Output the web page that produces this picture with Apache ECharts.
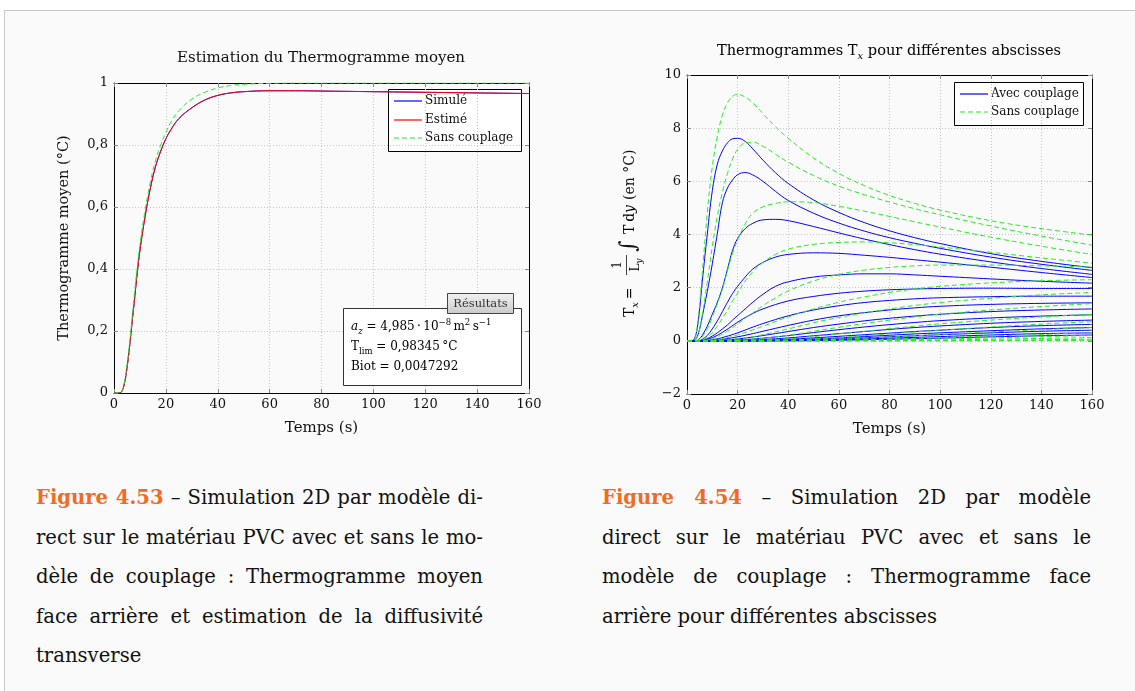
<!DOCTYPE html>
<html><head><meta charset="utf-8">
<script src="https://cdn.jsdelivr.net/npm/echarts@6/dist/echarts.min.js"></script>
<style>
html,body{margin:0;padding:0;background:#fff;width:1135px;height:691px;overflow:hidden;}
#frame{position:absolute;left:4px;top:10px;width:1140px;height:690px;background:#fafafa;border-top:1px solid #c8c8c8;border-left:1px solid #c8c8c8;}
#chart{position:absolute;left:0;top:0;width:1135px;height:470px;}
.cap{position:absolute;font-family:"DejaVu Serif";font-size:19.6px;line-height:39.5px;color:#111;}
.cap div{white-space:nowrap;text-align:justify;text-align-last:justify;}
.cap div.last{text-align-last:left;}
.fig{color:#f26b21;font-weight:bold;}
</style></head>
<body>
<div id="frame"></div>
<div id="chart"></div>
<div class="cap" style="left:36px;top:478px;width:447px">
<div><span class="fig">Figure 4.53</span> – Simulation 2D par modèle di-</div>
<div>rect sur le matériau PVC avec et sans le mo-</div>
<div>dèle de couplage : Thermogramme moyen</div>
<div>face arrière et estimation de la diffusivité</div>
<div class="last">transverse</div>
</div>
<div class="cap" style="left:602px;top:478px;width:489px">
<div><span class="fig">Figure 4.54</span> – Simulation 2D par modèle</div>
<div>direct sur le matériau PVC avec et sans le</div>
<div>modèle de couplage : Thermogramme face</div>
<div class="last">arrière pour différentes abscisses</div>
</div>
<script>
// ---------- Left chart data ----------
const T_LEFT = [0, 2, 3, 4, 5, 6, 7, 8, 9, 10, 12, 14, 16, 18, 20, 22, 25, 30, 35, 40, 45, 50, 60, 70, 80, 100, 120, 140, 160];
const SIMULE = [0, 0, 0.005, 0.03, 0.08, 0.15, 0.23, 0.31, 0.39, 0.46, 0.57, 0.66, 0.73, 0.78, 0.82, 0.85, 0.885, 0.92, 0.945, 0.96, 0.968, 0.972, 0.975, 0.975, 0.974, 0.972, 0.970, 0.968, 0.966];
const ESTIME = [0, 0, 0.005, 0.03, 0.08, 0.15, 0.23, 0.31, 0.39, 0.46, 0.57, 0.66, 0.73, 0.78, 0.82, 0.85, 0.885, 0.92, 0.945, 0.96, 0.968, 0.972, 0.975, 0.975, 0.974, 0.972, 0.970, 0.968, 0.966];
const SANS_MOY = [0, 0, 0.005, 0.035, 0.09, 0.16, 0.245, 0.33, 0.41, 0.48, 0.59, 0.68, 0.75, 0.80, 0.84, 0.875, 0.91, 0.948, 0.97, 0.984, 0.992, 0.996, 0.999, 1.0, 1.0, 1.0, 1.0, 1.0, 1.0];
const X_TICKS = [0, 20, 40, 60, 80, 100, 120, 140, 160];
const LEGEND_LEFT = ['Simulé', 'Estimé', 'Sans couplage'];
const LEGEND_RIGHT = ['Avec couplage', 'Sans couplage'];

// ---------- Right chart data ----------
const T_FAST = [0, 2, 3, 4, 5, 6, 8, 10, 12, 14, 16, 18, 20, 23, 26, 30, 35, 40, 50, 60, 70, 80, 90, 100, 120, 140, 160];
const B1 = [0, 0, 0.1, 0.45, 1.2, 2.2, 4.0, 5.65, 6.65, 7.15, 7.45, 7.6, 7.62, 7.5, 7.22, 6.8, 6.32, 5.92, 5.3, 4.83, 4.45, 4.14, 3.88, 3.66, 3.28, 2.99, 2.75];
const B2 = [0, 0, 0.02, 0.15, 0.45, 0.9, 1.85, 2.9, 4.05, 5.2, 5.75, 6.05, 6.25, 6.33, 6.24, 6.0, 5.62, 5.28, 4.8, 4.43, 4.13, 3.88, 3.67, 3.48, 3.15, 2.88, 2.65];
const B3 = [0, 0, 0, 0.02, 0.08, 0.2, 0.55, 1.0, 1.45, 2.0, 2.7, 3.4, 3.85, 4.22, 4.42, 4.55, 4.57, 4.52, 4.3, 4.06, 3.83, 3.62, 3.43, 3.26, 2.97, 2.72, 2.5];
const B4 = [0, 0, 0, 0, 0.01, 0.05, 0.2, 0.45, 0.75, 1.1, 1.45, 1.78, 2.05, 2.4, 2.7, 2.95, 3.15, 3.25, 3.31, 3.29, 3.22, 3.14, 3.05, 2.96, 2.77, 2.57, 2.38];
const B5 = [0, 0, 0, 0, 0, 0.02, 0.08, 0.18, 0.3, 0.45, 0.6, 0.78, 0.95, 1.2, 1.45, 1.75, 2.05, 2.22, 2.4, 2.48, 2.52, 2.52, 2.48, 2.43, 2.33, 2.24, 2.17];
const G1 = [0, 0, 0.05, 0.5, 1.4, 2.5, 4.8, 6.55, 7.7, 8.5, 8.95, 9.2, 9.27, 9.17, 8.95, 8.55, 8.05, 7.62, 6.88, 6.3, 5.84, 5.47, 5.17, 4.92, 4.52, 4.22, 3.98];
const G2 = [0, 0, 0.02, 0.15, 0.45, 0.95, 2.2, 3.55, 4.7, 5.6, 6.3, 6.85, 7.2, 7.45, 7.47, 7.32, 7.02, 6.72, 6.22, 5.82, 5.5, 5.22, 4.97, 4.74, 4.32, 3.94, 3.6];
const G3 = [0, 0, 0, 0.02, 0.06, 0.15, 0.45, 0.9, 1.4, 1.95, 2.65, 3.3, 3.8, 4.4, 4.8, 5.04, 5.17, 5.23, 5.2, 5.06, 4.88, 4.68, 4.48, 4.28, 3.9, 3.56, 3.25];
const G4 = [0, 0, 0, 0, 0, 0.03, 0.12, 0.3, 0.55, 0.85, 1.15, 1.5, 1.8, 2.25, 2.6, 2.95, 3.25, 3.45, 3.63, 3.7, 3.72, 3.69, 3.62, 3.53, 3.33, 3.12, 2.92];
const G5 = [0, 0, 0, 0, 0, 0, 0.03, 0.08, 0.15, 0.25, 0.37, 0.5, 0.63, 0.85, 1.05, 1.32, 1.62, 1.88, 2.25, 2.5, 2.66, 2.76, 2.82, 2.85, 2.85, 2.82, 2.78];

const T_SLOW = [0, 5, 10, 15, 20, 25, 30, 40, 50, 60, 70, 80, 90, 100, 120, 140, 160];
const B6  = [0, 0.01, 0.12, 0.38, 0.7, 0.98, 1.2, 1.5, 1.67, 1.79, 1.87, 1.92, 1.95, 1.97, 1.98, 1.97, 1.97];
const B7  = [0, 0, 0.04, 0.15, 0.3, 0.48, 0.65, 0.94, 1.16, 1.32, 1.44, 1.52, 1.58, 1.62, 1.66, 1.68, 1.68];
const B8  = [0, 0, 0.02, 0.07, 0.15, 0.25, 0.36, 0.58, 0.78, 0.94, 1.06, 1.16, 1.24, 1.3, 1.37, 1.41, 1.43];
const B9  = [0, 0, 0, 0.03, 0.07, 0.13, 0.2, 0.35, 0.5, 0.63, 0.75, 0.85, 0.93, 1.0, 1.1, 1.16, 1.2];
const B10 = [0, 0, 0, 0, 0.03, 0.06, 0.1, 0.2, 0.31, 0.42, 0.52, 0.61, 0.69, 0.76, 0.86, 0.93, 0.98];
const B11 = [0, 0, 0, 0, 0.01, 0.03, 0.05, 0.11, 0.19, 0.27, 0.35, 0.43, 0.5, 0.56, 0.66, 0.73, 0.78];
const B12 = [0, 0, 0, 0, 0, 0.01, 0.02, 0.06, 0.11, 0.17, 0.23, 0.29, 0.35, 0.4, 0.5, 0.57, 0.62];
const B13 = [0, 0, 0, 0, 0, 0, 0.01, 0.03, 0.07, 0.11, 0.16, 0.21, 0.26, 0.3, 0.38, 0.45, 0.5];
const B14 = [0, 0, 0, 0, 0, 0, 0, 0.02, 0.04, 0.07, 0.11, 0.15, 0.19, 0.23, 0.3, 0.36, 0.4];
const B15 = [0, 0, 0, 0, 0, 0, 0, 0.01, 0.02, 0.04, 0.07, 0.1, 0.13, 0.16, 0.22, 0.27, 0.3];
const B16 = [0, 0, 0, 0, 0, 0, 0, 0, 0.01, 0.02, 0.04, 0.06, 0.08, 0.1, 0.15, 0.19, 0.22];
const G6  = [0, 0, 0.02, 0.1, 0.22, 0.38, 0.55, 0.9, 1.2, 1.45, 1.65, 1.82, 1.95, 2.05, 2.18, 2.26, 2.3];
const G7  = [0, 0, 0, 0.03, 0.07, 0.14, 0.23, 0.45, 0.68, 0.88, 1.05, 1.2, 1.33, 1.44, 1.6, 1.73, 1.82];
const G8  = [0, 0, 0, 0, 0.02, 0.05, 0.09, 0.21, 0.36, 0.51, 0.65, 0.78, 0.9, 1.0, 1.16, 1.29, 1.4];
const G9  = [0, 0, 0, 0, 0, 0.01, 0.03, 0.08, 0.16, 0.26, 0.36, 0.46, 0.55, 0.64, 0.78, 0.9, 1.0];
const G10 = [0, 0, 0, 0, 0, 0, 0.01, 0.03, 0.07, 0.12, 0.19, 0.26, 0.33, 0.4, 0.52, 0.63, 0.72];
const G11 = [0, 0, 0, 0, 0, 0, 0, 0.01, 0.03, 0.06, 0.1, 0.14, 0.19, 0.24, 0.33, 0.42, 0.5];
const G12 = [0, 0, 0, 0, 0, 0, 0, 0, 0.01, 0.02, 0.04, 0.06, 0.09, 0.12, 0.18, 0.24, 0.3];
const G13 = [0, 0, 0, 0, 0, 0, 0, 0, 0, 0.01, 0.02, 0.03, 0.05, 0.07, 0.11, 0.16, 0.2];
const G14 = [0, 0, 0, 0, 0, 0, 0, 0, 0, 0, 0.01, 0.01, 0.02, 0.03, 0.06, 0.09, 0.12];
const G15 = [0, 0, 0, 0, 0, 0, 0, 0, 0, 0, 0, 0, 0.01, 0.01, 0.02, 0.04, 0.06];
const G16 = [0, 0, 0, 0, 0, 0, 0, 0, 0, 0, 0, 0, 0, 0, 0.01, 0.01, 0.02];

const Y_LEFT_TICKS = [0, 0.2, 0.4, 0.6, 0.8, 1];
const Y_RIGHT_TICKS = [-2, 0, 2, 4, 6, 8, 10];

const BLUE_FAST = [B1, B2, B3, B4, B5];
const GREEN_FAST = [G1, G2, G3, G4, G5];
const BLUE_SLOW = [B6, B7, B8, B9, B10, B11, B12, B13, B14, B15, B16];
const GREEN_SLOW = [G6, G7, G8, G9, G10, G11, G12, G13, G14, G15, G16];

// ---------- styles ----------
const FONT = 'DejaVu Serif';
const BLUE = '#0000ff', GREEN = '#22ee22', RED = '#ff0000';
const DASH = [5, 3];

const zip = (ts, vs) => ts.map((t, i) => [t, vs[i]]);

function mainX(gi, min, max, interval) {
  return {
    type: 'value', gridIndex: gi, min, max, interval, position: 'bottom',
    axisLine: {show: true, onZero: false, lineStyle: {color: '#000', width: 1}},
    axisTick: {show: true, inside: true, length: 4, lineStyle: {color: '#888'}},
    axisLabel: {show: true, margin: 5, fontFamily: FONT, fontSize: 13, color: '#111'},
    splitLine: {show: true, lineStyle: {type: [1, 2], color: '#c4c4c4'}},
    name: 'Temps (s)', nameLocation: 'middle', nameGap: 28,
    nameTextStyle: {fontFamily: FONT, fontSize: 15, color: '#111'}
  };
}
function frameX(gi, min, max, interval) {
  return {
    type: 'value', gridIndex: gi, min, max, interval, position: 'top',
    axisLine: {show: true, onZero: false, lineStyle: {color: '#000', width: 1}},
    axisTick: {show: true, inside: true, length: 4, lineStyle: {color: '#888'}},
    axisLabel: {show: false}, splitLine: {show: false}
  };
}
function mainY(gi, min, max, interval, fmt, name, gap) {
  return {
    type: 'value', gridIndex: gi, min, max, interval, position: 'left',
    axisLine: {show: true, onZero: false, lineStyle: {color: '#000', width: 1}},
    axisTick: {show: true, inside: true, length: 4, lineStyle: {color: '#888'}},
    axisLabel: {show: true, margin: 6, fontFamily: FONT, fontSize: 13, color: '#111', formatter: fmt},
    splitLine: {show: true, lineStyle: {type: [1, 2], color: '#c4c4c4'}},
    name: name, nameLocation: 'middle', nameGap: gap,
    nameTextStyle: {fontFamily: FONT, fontSize: 14.5, color: '#111'}
  };
}
function frameY(gi, min, max, interval) {
  return {
    type: 'value', gridIndex: gi, min, max, interval, position: 'right',
    axisLine: {show: true, onZero: false, lineStyle: {color: '#000', width: 1}},
    axisTick: {show: true, inside: true, length: 4, lineStyle: {color: '#888'}},
    axisLabel: {show: false}, splitLine: {show: false}
  };
}

function lineSeries(name, data, xi, yi, color, dashed, z) {
  return {
    type: 'line', name, data, xAxisIndex: xi, yAxisIndex: yi,
    showSymbol: false, symbol: 'none', smooth: 0.4,
    lineStyle: {color, width: 1, type: dashed ? DASH : 'solid'},
    itemStyle: {color}, silent: true, animation: false, z: z || 2
  };
}

const series = [
  lineSeries(LEGEND_LEFT[0], zip(T_LEFT, SIMULE), 0, 0, BLUE, false, 2),
  lineSeries(LEGEND_LEFT[1], zip(T_LEFT, ESTIME), 0, 0, RED, false, 3),
  lineSeries(LEGEND_LEFT[2], zip(T_LEFT, SANS_MOY), 0, 0, GREEN, true, 4)
];
BLUE_FAST.forEach(a => series.push(lineSeries(LEGEND_RIGHT[0], zip(T_FAST, a), 2, 2, BLUE, false, 2)));
BLUE_SLOW.forEach(a => series.push(lineSeries(LEGEND_RIGHT[0], zip(T_SLOW, a), 2, 2, BLUE, false, 2)));
GREEN_FAST.forEach(a => series.push(lineSeries(LEGEND_RIGHT[1], zip(T_FAST, a), 2, 2, GREEN, true, 3)));
GREEN_SLOW.forEach(a => series.push(lineSeries(LEGEND_RIGHT[1], zip(T_SLOW, a), 2, 2, GREEN, true, 3)));

const fmtLeft = v => { const r = Math.round(v * 10) / 10; return String(r).replace('.', ','); };
const fmtRight = v => v < 0 ? '\u2212' + Math.abs(v) : String(v);

// legend boxes drawn as graphic elements (line samples + labels)
function legendBox(x, y, w, h, rowY0, rowStep, names, styles) {
  const ch = [{type: 'rect', shape: {x: x + 0.5, y: y + 0.5, width: w, height: h}, style: {fill: '#fff', stroke: '#000', lineWidth: 1}}];
  names.forEach((nm, i) => {
    const ry = Math.round(rowY0 + i * rowStep);
    ch.push({type: 'line', shape: {x1: x + 6, y1: ry, x2: x + 34, y2: ry},
      style: {stroke: styles[i].color, lineWidth: 1.2, lineDash: styles[i].dashed ? DASH : null}});
    ch.push({type: 'text', x: x + 37, y: ry, style: {text: nm, fontFamily: FONT, fontSize: 12, fill: '#111', align: 'left', verticalAlign: 'middle'}});
  });
  return {type: 'group', z: 100, children: ch};
}

const mathRich = {
  n: {fontFamily: FONT, fontSize: 12, color: '#111', lineHeight: 18},
  i: {fontFamily: FONT, fontSize: 12, fontStyle: 'italic', color: '#111', lineHeight: 18},
  sub: {fontFamily: FONT, fontSize: 8.5, color: '#111', verticalAlign: 'bottom', lineHeight: 12},
  subi: {fontFamily: FONT, fontSize: 8.5, fontStyle: 'italic', color: '#111', verticalAlign: 'bottom', lineHeight: 12},
  sup: {fontFamily: FONT, fontSize: 8.5, color: '#111', verticalAlign: 'top', lineHeight: 12}
};
const bigRich = {
  n: {fontFamily: FONT, fontSize: 14, color: '#111', lineHeight: 20},
  i: {fontFamily: FONT, fontSize: 14, fontStyle: 'italic', color: '#111', lineHeight: 20},
  subi: {fontFamily: FONT, fontSize: 10, fontStyle: 'italic', color: '#111', verticalAlign: 'bottom', lineHeight: 13}
};

const graphic = [
  // titles
  {type: 'text', x: 321, y: 58, z: 100, style: {text: 'Estimation du Thermogramme moyen', fontFamily: FONT, fontSize: 15, fill: '#111', align: 'center', verticalAlign: 'middle'}},
  {type: 'text', x: 889, y: 51, z: 100, style: {text: '{n|Thermogrammes T}{subi|x}{n| pour différentes abscisses}', rich: {
      n: {fontFamily: FONT, fontSize: 14.6, color: '#111', lineHeight: 20},
      subi: {fontFamily: FONT, fontSize: 10, fontStyle: 'italic', color: '#111', verticalAlign: 'bottom', lineHeight: 13}
    }, align: 'center', verticalAlign: 'middle'}},
  // legends
  legendBox(388, 89, 133, 62, 101, 18.5, LEGEND_LEFT, [{color: BLUE}, {color: RED}, {color: GREEN, dashed: true}]),
  legendBox(954, 82, 129, 43, 94, 18, LEGEND_RIGHT, [{color: BLUE}, {color: GREEN, dashed: true}]),
  // results box
  {type: 'rect', z: 100, shape: {x: 343.5, y: 308.5, width: 178, height: 77}, style: {fill: '#fff', stroke: '#333', lineWidth: 1}},
  {type: 'rect', z: 101, shape: {x: 447.5, y: 293.5, width: 66, height: 20}, style: {
      fill: {type: 'linear', x: 0, y: 0, x2: 0, y2: 1, global: false, colorStops: [{offset: 0, color: '#f2f2f2'}, {offset: 1, color: '#c9c9c9'}]},
      stroke: '#444', lineWidth: 1}},
  {type: 'text', z: 102, x: 480.5, y: 304, style: {text: 'Résultats', fontFamily: FONT, fontSize: 11.5, fill: '#333', align: 'center', verticalAlign: 'middle'}},
  {type: 'text', z: 102, x: 351, y: 327, style: {text: '{i|a}{subi|z}{n| = 4,985\u2009·\u200910}{sup|\u22128}{n|\u2009m}{sup|2}{n|\u2009s}{sup|\u22121}', rich: mathRich, verticalAlign: 'middle'}},
  {type: 'text', z: 102, x: 351, y: 347, style: {text: '{n|T}{sub|lim}{n| = 0,98345\u2009°C}', rich: mathRich, verticalAlign: 'middle'}},
  {type: 'text', z: 102, x: 351, y: 367, style: {text: '{n|Biot = 0,0047292}', rich: mathRich, verticalAlign: 'middle'}},
  // right y-axis name (rotated)
  {type: 'group', x: 630, y: 235, rotation: Math.PI / 2, z: 100, children: [
    {type: 'text', x: -82, y: 0, style: {text: '{n|T}{subi|x}{n|\u2009=}', rich: bigRich, verticalAlign: 'middle', align: 'left'}},
    {type: 'text', x: -30, y: -12, style: {text: '1', fontFamily: FONT, fontSize: 12, fill: '#111', align: 'center', verticalAlign: 'middle'}},
    {type: 'line', shape: {x1: -40, y1: -3.5, x2: -20, y2: -3.5}, style: {stroke: '#111', lineWidth: 0.8}},
    {type: 'text', x: -30, y: 6, style: {text: '{n|L}{subi|y}', rich: {
        n: {fontFamily: FONT, fontSize: 12, color: '#111', lineHeight: 16},
        subi: {fontFamily: FONT, fontSize: 8.5, fontStyle: 'italic', color: '#111', verticalAlign: 'bottom', lineHeight: 11}
      }, align: 'center', verticalAlign: 'middle'}},
    {type: 'text', x: -17, y: -1, style: {text: '\u222B', fontFamily: FONT, fontSize: 22, fill: '#111', align: 'left', verticalAlign: 'middle'}},
    {type: 'text', x: 1, y: 0, style: {text: '{n|T\u2009d}{i|y}', rich: bigRich, verticalAlign: 'middle', align: 'left'}},
    {type: 'text', x: 35, y: 0, style: {text: '(en °C)', fontFamily: FONT, fontSize: 14, fill: '#111', verticalAlign: 'middle', align: 'left'}}
  ]}
];

const option = {
  backgroundColor: 'transparent',
  animation: false,
  grid: [
    {left: 114, top: 83, width: 415, height: 310},
    {left: 687, top: 75, width: 405, height: 319}
  ],
  xAxis: [
    mainX(0, X_TICKS[0], X_TICKS[X_TICKS.length - 1], 20),
    frameX(0, X_TICKS[0], X_TICKS[X_TICKS.length - 1], 20),
    mainX(1, X_TICKS[0], X_TICKS[X_TICKS.length - 1], 20),
    frameX(1, X_TICKS[0], X_TICKS[X_TICKS.length - 1], 20)
  ],
  yAxis: [
    mainY(0, Y_LEFT_TICKS[0], Y_LEFT_TICKS[Y_LEFT_TICKS.length - 1], 0.2, fmtLeft, 'Thermogramme moyen (°C)', 42),
    frameY(0, Y_LEFT_TICKS[0], Y_LEFT_TICKS[Y_LEFT_TICKS.length - 1], 0.2),
    mainY(1, Y_RIGHT_TICKS[0], Y_RIGHT_TICKS[Y_RIGHT_TICKS.length - 1], 2, fmtRight, '', 40),
    frameY(1, Y_RIGHT_TICKS[0], Y_RIGHT_TICKS[Y_RIGHT_TICKS.length - 1], 2)
  ],
  graphic,
  series
};

const chart = echarts.init(document.getElementById('chart'), null, {renderer: 'canvas'});
chart.setOption(option);
</script>
</body></html>
